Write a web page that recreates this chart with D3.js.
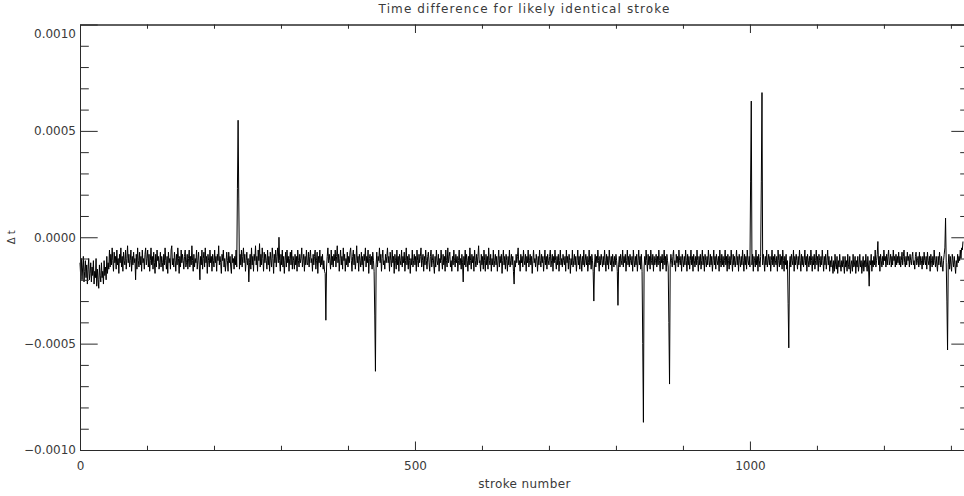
<!DOCTYPE html>
<html>
<head>
<meta charset="utf-8">
<script src="https://cdn.jsdelivr.net/npm/d3@7/dist/d3.min.js"></script>
<style>
  html, body { margin: 0; padding: 0; background: #fff; }
  svg { display: block; }
  text { font-family: "DejaVu Sans", sans-serif; fill: #3a3a3a; }
</style>
</head>
<body>
<svg id="chart" width="964" height="496"></svg>
<script>
// ---- DATA ----
const title = "Time difference for likely identical stroke";
const xLabel = "stroke number";
const yLabel = "Δ t";
const xMajorTicks = [0, 500, 1000];
const xTickLabels = ["0", "500", "1000"];
const xMinorTicks = [100, 200, 300, 400, 600, 700, 800, 900, 1100, 1200, 1300];
const yMajorTicks = [-0.0010, -0.0005, 0.0000, 0.0005, 0.0010];
const yTickLabels = ["\u22120.0010", "\u22120.0005", "0.0000", "0.0005", "0.0010"];
const yMinorTicks = [-0.0009, -0.0008, -0.0007, -0.0006, -0.0004, -0.0003, -0.0002, -0.0001,
                     0.0001, 0.0002, 0.0003, 0.0004, 0.0006, 0.0007, 0.0008, 0.0009];
const valueUnit = 1e-5; // series values below are in units of 1e-5
// Δt per stroke (units of 1e-5), rows of 20 strokes
const deltaT = [
/*   0 */ -12,-18,-10,-20,-14,-9,-21,-16,-11,-19,-13,-22,-15,-10,-20,-17,-12,-21,-14,-18,
/*  20 */ -11,-22,-16,-19,-10,-23,-15,-20,-24,-13,-18,-21,-12,-19,-16,-22,-11,-18,-14,-20,
/*  40 */ -9,-17,-12,-15,-6,-14,-8,-13,-5,-11,-16,-7,-12,-9,-15,-6,-13,-10,-17,-8,
/*  60 */ -12,-5,-14,-9,-16,-7,-11,-13,-6,-15,-10,-4,-12,-8,-14,-11,-6,-16,-9,-13,
/*  80 */ -7,-12,-10,-20,-8,-15,-5,-11,-14,-7,-13,-9,-16,-6,-12,-10,-15,-8,-5,-13,
/* 100 */ -10,-6,-14,-8,-16,-11,-5,-13,-9,-15,-7,-12,-17,-8,-14,-6,-11,-9,-15,-12,
/* 120 */ -7,-14,-9,-12,-16,-8,-13,-5,-11,-15,-9,-17,-7,-12,-10,-15,-6,-4,-13,-10,
/* 140 */ -14,-7,-11,-16,-8,-13,-5,-10,-17,-9,-14,-6,-12,-8,-11,-15,-9,-6,-14,-12,
/* 160 */ -8,-15,-10,-6,-14,-9,-13,-4,-11,-16,-8,-14,-10,-12,-6,-15,-11,-7,-13,-20,
/* 180 */ -9,-13,-6,-15,-10,-7,-14,-5,-12,-9,-17,-8,-11,-14,-6,-12,-9,-16,-8,-11,
/* 200 */ -14,-6,-12,-9,-16,-8,-11,-4,-13,-9,-12,-17,-8,-11,-6,-14,-10,-16,-12,-7,
/* 220 */ -11,-16,-7,-12,-9,-14,-17,-8,-12,-10,-15,-9,-13,-6,-14,23,55,18,-15,-8,
/* 240 */ -13,-6,-14,-9,-5,-12,-8,-16,-11,-7,-13,-10,-21,-12,-8,-15,-5,-13,-9,-16,
/* 260 */ -8,-11,-4,-13,-9,-16,-6,-11,-3,-14,-8,-13,-5,-10,-16,-7,-12,-8,-11,-15,
/* 280 */ -6,-13,-9,-16,-7,-11,-14,-5,-10,-17,-8,-12,-6,-14,-9,-5,-12,0,-11,-16,
/* 300 */ -8,-13,-6,-14,-9,-17,-11,-7,-14,-6,-12,-9,-16,-10,-7,-13,-6,-15,-9,-11,
/* 320 */ -15,-8,-13,-9,-16,-6,-11,-14,-8,-12,-10,-5,-14,-11,-8,-16,-9,-13,-6,-12,
/* 340 */ -13,-7,-14,-9,-6,-12,-10,-16,-8,-13,-9,-6,-15,-11,-7,-17,-9,-12,-6,-14,
/* 360 */ -9,-13,-8,-15,-11,-16,-17,-39,-14,-9,-5,-12,-8,-11,-15,-6,-13,-9,-14,-8,
/* 380 */ -11,-6,-14,-9,-4,-12,-8,-16,-10,-6,-13,-9,-15,-5,-11,-8,-16,-10,-13,-7,
/* 400 */ -14,-9,-12,-7,-5,-11,-16,-9,-6,-13,-8,-15,-11,-4,-12,-9,-16,-8,-11,-14,
/* 420 */ -7,-13,-9,-16,-8,-11,-5,-14,-9,-12,-6,-17,-10,-8,-13,-9,-15,-7,-11,-16,
/* 440 */ -37,-63,-13,-7,-14,-9,-11,-5,-12,-8,-16,-10,-6,-13,-11,-15,-8,-12,-9,-5,
/* 460 */ -12,-9,-16,-7,-11,-14,-6,-12,-9,-17,-8,-11,-15,-6,-13,-9,-16,-8,-11,-13,
/* 480 */ -6,-14,-9,-12,-7,-16,-11,-5,-13,-9,-15,-8,-11,-17,-10,-13,-6,-14,-11,-8,
/* 500 */ -13,-9,-16,-6,-11,-14,-8,-12,-9,-5,-14,-11,-8,-16,-9,-13,-6,-11,-15,-9,
/* 520 */ -7,-12,-16,-9,-6,-14,-11,-8,-13,-17,-9,-14,-6,-11,-13,-8,-16,-10,-12,-6,
/* 540 */ -11,-15,-8,-13,-9,-16,-6,-11,-14,-5,-12,-9,-7,-14,-11,-16,-9,-13,-6,-11,
/* 560 */ -14,-8,-12,-9,-16,-11,-6,-13,-10,-15,-8,-12,-21,-9,-13,-6,-14,-8,-11,-16,
/* 580 */ -9,-13,-5,-11,-15,-8,-12,-9,-16,-6,-11,-14,-8,-13,-9,-4,-12,-11,-16,-8,
/* 600 */ -13,-9,-15,-6,-11,-16,-8,-13,-9,-15,-5,-11,-13,-8,-16,-10,-13,-6,-14,-11,
/* 620 */ -8,-13,-9,-16,-11,-6,-14,-9,-12,-8,-17,-11,-6,-13,-9,-15,-8,-11,-16,-9,
/* 640 */ -13,-6,-14,-11,-8,-13,-9,-16,-22,-11,-14,-8,-12,-9,-5,-13,-11,-16,-8,-12,
/* 660 */ -9,-14,-6,-11,-13,-8,-16,-9,-12,-6,-14,-11,-8,-13,-9,-17,-11,-6,-12,-10,
/* 680 */ -14,-8,-11,-16,-9,-13,-6,-11,-14,-8,-12,-9,-16,-11,-6,-13,-9,-15,-8,-11,
/* 700 */ -13,-9,-6,-14,-11,-8,-16,-9,-12,-6,-11,-15,-9,-13,-8,-16,-11,-6,-13,-10,
/* 720 */ -14,-8,-11,-13,-9,-16,-6,-12,-9,-15,-8,-11,-17,-10,-13,-6,-14,-11,-8,-13,
/* 740 */ -9,-16,-11,-6,-13,-9,-15,-8,-11,-16,-9,-13,-6,-14,-11,-8,-13,-9,-16,-12,
/* 760 */ -6,-13,-9,-15,-8,-11,-16,-30,-13,-8,-14,-9,-12,-6,-11,-16,-9,-13,-8,-11,
/* 780 */ -14,-9,-13,-6,-11,-16,-8,-13,-9,-15,-6,-11,-13,-9,-16,-8,-11,-14,-9,-13,
/* 800 */ -8,-11,-16,-32,-13,-9,-14,-8,-11,-13,-6,-14,-9,-12,-8,-16,-11,-6,-13,-9,
/* 820 */ -14,-8,-11,-13,-9,-16,-6,-11,-14,-9,-13,-8,-16,-11,-6,-13,-9,-15,-8,-16,
/* 840 */ -50,-87,-14,-9,-13,-6,-11,-16,-8,-13,-9,-15,-6,-11,-13,-8,-16,-9,-13,-11,
/* 860 */ -8,-14,-9,-13,-6,-11,-16,-9,-12,-8,-15,-11,-6,-13,-9,-16,-8,-11,-14,-40,
/* 880 */ -69,-13,-8,-11,-14,-9,-6,-13,-11,-16,-8,-12,-9,-14,-6,-11,-13,-9,-16,-8,
/* 900 */ -11,-14,-9,-13,-6,-11,-16,-8,-13,-9,-15,-11,-6,-13,-9,-16,-8,-11,-14,-9,
/* 920 */ -13,-6,-11,-16,-9,-13,-8,-15,-11,-6,-13,-9,-16,-8,-11,-14,-9,-13,-6,-11,
/* 940 */ -14,-8,-13,-9,-16,-11,-6,-13,-9,-15,-8,-11,-13,-9,-16,-6,-11,-14,-8,-13,
/* 960 */ -9,-14,-11,-6,-13,-9,-16,-8,-11,-15,-9,-13,-6,-11,-16,-8,-13,-9,-14,-11,
/* 980 */ -6,-13,-9,-16,-8,-11,-14,-9,-13,-6,-11,-16,-8,-13,-9,-15,-6,-11,-13,-9,
/*1000 */ -14,26,64,-13,-8,-16,-9,-11,-14,-6,-13,-9,-16,-8,-11,-14,-9,26,68,-13,
/*1020 */ -8,-11,-16,-9,-13,-6,-14,-11,-8,-13,-9,-16,-11,-6,-13,-9,-14,-8,-11,-13,
/*1040 */ -9,-16,-6,-11,-14,-8,-13,-9,-15,-6,-11,-16,-9,-13,-8,-15,-11,-31,-52,-13,
/*1060 */ -9,-14,-8,-11,-13,-6,-16,-9,-13,-8,-11,-15,-9,-13,-6,-11,-16,-8,-13,-9,
/*1080 */ -14,-11,-6,-13,-9,-16,-8,-11,-14,-9,-13,-6,-11,-16,-9,-13,-8,-15,-11,-6,
/*1100 */ -13,-9,-16,-8,-11,-14,-9,-13,-6,-11,-16,-9,-13,-8,-15,-11,-6,-13,-9,-16,
/*1120 */ -11,-14,-9,-13,-17,-11,-16,-8,-13,-15,-9,-17,-11,-14,-8,-13,-16,-11,-14,-9,
/*1140 */ -13,-17,-9,-14,-11,-16,-8,-13,-15,-9,-17,-13,-11,-16,-8,-14,-13,-9,-17,-11,
/*1160 */ -14,-9,-16,-13,-8,-14,-11,-17,-13,-9,-16,-11,-14,-8,-13,-16,-9,-14,-23,-11,
/*1180 */ -13,-8,-16,-11,-14,-9,-13,-6,-14,-11,-8,-2,-13,-9,-16,-8,-11,-14,-9,-13,
/*1200 */ -6,-11,-9,-14,-8,-13,-9,-6,-13,-11,-8,-14,-9,-13,-6,-11,-9,-14,-8,-13,
/*1220 */ -9,-12,-7,-13,-9,-14,-11,-7,-13,-9,-6,-12,-14,-9,-13,-7,-11,-9,-14,-8,
/*1240 */ -11,-13,-9,-7,-13,-11,-15,-9,-7,-13,-11,-9,-14,-7,-13,-9,-11,-15,-9,-13,
/*1260 */ -7,-11,-13,-9,-15,-7,-11,-13,-9,-16,-8,-11,-14,-9,-13,-6,-11,-14,-9,-13,
/*1280 */ -16,-9,-13,-7,-11,-14,-9,-13,-16,-11,-8,-5,9,-12,-30,-53,-13,-8,-15,-9,
/*1300 */ -13,-16,-8,-11,-14,-9,-13,-17,-11,-14,-8,-12,-9,-11,-6,-10,-5,-6,-2
];
const xDomain = [0, 1327];
const yDomain = [-0.0010, 0.0010];

// ---- LAYOUT ----
const svg = d3.select("#chart");
const mLeft = 80, mRight = 969, mTop = 24.5, mBottom = 450;
const x = d3.scaleLinear().domain(xDomain).range([mLeft, mRight]);
const y = d3.scaleLinear().domain(yDomain).range([mBottom, mTop]);
const axisColor = "#2a2a2a";
const fs = 12;

// data line
const line = d3.line().x((d, i) => x(i)).y(d => y(d * valueUnit));
svg.append("path")
  .datum(deltaT)
  .attr("d", line)
  .attr("fill", "none")
  .attr("stroke", "#000")
  .attr("stroke-width", 1)
  .attr("stroke-linejoin", "miter");

function styleAxis(g) {
  g.select(".domain").attr("stroke", axisColor).attr("stroke-width", 1);
  g.selectAll(".tick line").attr("stroke", axisColor).attr("stroke-width", 1);
  g.selectAll(".tick text").attr("fill", "#3a3a3a")
    .style("font-family", '"DejaVu Sans", sans-serif').style("font-size", fs + "px");
}

const xMajLen = 8.5, xMinLen = 4.25, yMajLen = 17.7, yMinLen = 8.8;

// bottom axis
svg.append("g").attr("transform", `translate(0,${mBottom})`)
  .call(d3.axisBottom(x).tickValues(xMinorTicks).tickSizeInner(-xMinLen).tickSizeOuter(0).tickFormat(""))
  .call(styleAxis);
svg.append("g").attr("transform", `translate(0,${mBottom})`)
  .call(d3.axisBottom(x).tickValues(xMajorTicks).tickSizeInner(-xMajLen).tickSizeOuter(0)
        .tickPadding(11).tickFormat((d, i) => xTickLabels[i]))
  .call(styleAxis);
// top axis
svg.append("g").attr("transform", `translate(0,${mTop})`)
  .call(d3.axisTop(x).tickValues(xMinorTicks).tickSizeInner(-xMinLen).tickSizeOuter(0).tickFormat(""))
  .call(styleAxis);
svg.append("g").attr("transform", `translate(0,${mTop})`)
  .call(d3.axisTop(x).tickValues(xMajorTicks).tickSizeInner(-xMajLen).tickSizeOuter(0).tickFormat(""))
  .call(styleAxis);
// left axis
svg.append("g").attr("transform", `translate(${mLeft},0)`)
  .call(d3.axisLeft(y).tickValues(yMinorTicks).tickSizeInner(-yMinLen).tickSizeOuter(0).tickFormat(""))
  .call(styleAxis);
const yl = svg.append("g").attr("transform", `translate(${mLeft},0)`)
  .call(d3.axisLeft(y).tickValues(yMajorTicks).tickSizeInner(-yMajLen).tickSizeOuter(0)
        .tickPadding(4).tickFormat((d, i) => yTickLabels[i]))
  .call(styleAxis);
// top label sits slightly below its tick, as in the original
yl.selectAll(".tick text").attr("dy", (d) => d === yDomain[1] ? "1.05em" : "0.32em");
// right axis
svg.append("g").attr("transform", `translate(${mRight},0)`)
  .call(d3.axisRight(y).tickValues(yMinorTicks).tickSizeInner(-yMinLen).tickSizeOuter(0).tickFormat(""))
  .call(styleAxis);
svg.append("g").attr("transform", `translate(${mRight},0)`)
  .call(d3.axisRight(y).tickValues(yMajorTicks).tickSizeInner(-yMajLen).tickSizeOuter(0).tickFormat(""))
  .call(styleAxis);

// titles
svg.append("text").attr("x", (mLeft + mRight) / 2).attr("y", 13)
  .attr("text-anchor", "middle").style("font-size", fs + "px")
  .style("letter-spacing", "1.1px").text(title);
svg.append("text").attr("x", (mLeft + mRight) / 2).attr("y", 488)
  .attr("text-anchor", "middle").style("font-size", fs + "px")
  .style("letter-spacing", "0.4px").text(xLabel);
svg.append("text").attr("transform", `translate(15,${(mTop + mBottom) / 2}) rotate(-90)`)
  .attr("text-anchor", "middle").style("font-size", "10px").text(yLabel);
</script>
</body>
</html>
